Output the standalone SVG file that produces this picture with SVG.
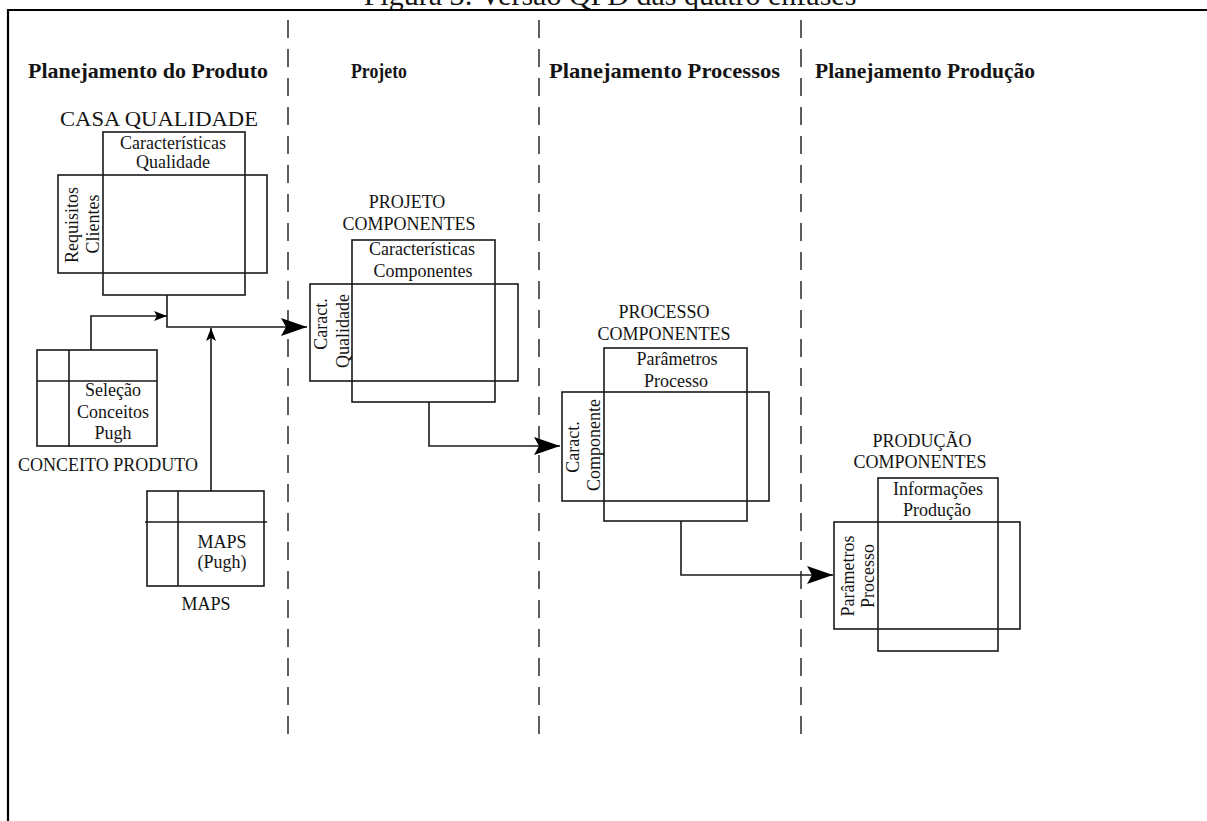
<svg xmlns="http://www.w3.org/2000/svg" width="1207" height="821" viewBox="0 0 1207 821">
<style>
text{font-family:"Liberation Serif","Times New Roman",serif;fill:#141414}
.t{font-size:18px;text-anchor:middle}
.h{font-size:21px;font-weight:bold}
.box{fill:none;stroke:#1a1a1a;stroke-width:1.6}
.ln{fill:none;stroke:#1a1a1a;stroke-width:1.6}
.dash{stroke:#1a1a1a;stroke-width:1.4;stroke-dasharray:18 11}
</style>
<defs>
<marker id="big" viewBox="0 0 26 18" refX="26" refY="9" markerWidth="26" markerHeight="18" markerUnits="userSpaceOnUse" orient="auto">
<path d="M0,0 L26,9 L0,18 L5,9 Z" fill="#000"/>
</marker>
<marker id="small" viewBox="0 0 13 10" refX="13" refY="5" markerWidth="13" markerHeight="10" markerUnits="userSpaceOnUse" orient="auto">
<path d="M0,0 L13,5 L0,10 L3,5 Z" fill="#000"/>
</marker>
</defs>
<rect width="1207" height="821" fill="#fff"/>
<text x="610" y="5" style="font-size:30px;text-anchor:middle">Figura 3: Versão QFD das quatro ênfases</text>
<path d="M8,830 V10 H1207" fill="none" stroke="#000" stroke-width="2.2"/>
<g id="lanes">
<line class="dash" x1="288" y1="20" x2="288" y2="745"/>
<line class="dash" x1="539" y1="20" x2="539" y2="745"/>
<line class="dash" x1="801" y1="20" x2="801" y2="745"/>
<text class="h" x="28" y="78" textLength="240" lengthAdjust="spacingAndGlyphs">Planejamento do Produto</text>
<text class="h" x="351" y="78" textLength="56" lengthAdjust="spacingAndGlyphs">Projeto</text>
<text class="h" x="549" y="78" textLength="231" lengthAdjust="spacingAndGlyphs">Planejamento Processos</text>
<text class="h" x="815" y="78" textLength="220" lengthAdjust="spacingAndGlyphs">Planejamento Produção</text>
</g>
<g id="connectors">
<path class="ln" d="M167,295 V327 H307" marker-end="url(#big)"/>
<path class="ln" d="M91,350 V316 H167" marker-end="url(#small)"/>
<path class="ln" d="M211,491 V328" marker-end="url(#small)"/>
<path class="ln" d="M429,402 V446 H560" marker-end="url(#big)"/>
<path class="ln" d="M681,521 V575 H833" marker-end="url(#big)"/>
</g>
<g id="casa-qualidade">
<text x="159" y="126" style="font-size:22px;text-anchor:middle" textLength="198" lengthAdjust="spacingAndGlyphs">CASA QUALIDADE</text>
<rect class="box" x="103" y="132" width="142" height="163"/>
<rect class="box" x="58" y="175" width="209" height="98"/>
<text class="t" x="173" y="149">Características</text>
<text class="t" x="173" y="168">Qualidade</text>
<text class="t" transform="translate(78,225) rotate(-90)">Requisitos</text>
<text class="t" transform="translate(99,224) rotate(-90)">Clientes</text>
</g>
<g id="conceito-produto">
<rect class="box" x="37" y="350" width="120" height="96"/>
<line class="ln" x1="69" y1="350" x2="69" y2="447"/>
<line class="ln" x1="37" y1="381" x2="157" y2="381"/>
<text class="t" x="113" y="396">Seleção</text>
<text class="t" x="113" y="418">Conceitos</text>
<text class="t" x="113" y="439">Pugh</text>
<text class="t" x="108" y="471">CONCEITO PRODUTO</text>
</g>
<g id="maps">
<rect class="box" x="147" y="491" width="117" height="95"/>
<line class="ln" x1="178" y1="491" x2="178" y2="586"/>
<line class="ln" x1="145" y1="522" x2="267" y2="522"/>
<text class="t" x="222" y="548">MAPS</text>
<text class="t" x="222" y="568">(Pugh)</text>
<text class="t" x="206" y="610">MAPS</text>
</g>
<g id="projeto-componentes">
<text class="t" x="407" y="208">PROJETO</text>
<text class="t" x="409" y="230">COMPONENTES</text>
<rect class="box" x="352" y="240" width="143" height="162"/>
<rect class="box" x="310" y="284" width="208" height="97"/>
<text class="t" x="422" y="255">Características</text>
<text class="t" x="423" y="277">Componentes</text>
<text class="t" transform="translate(327,324) rotate(-90)">Caract.</text>
<text class="t" transform="translate(349,331) rotate(-90)">Qualidade</text>
</g>
<g id="processo-componentes">
<text class="t" x="664" y="318">PROCESSO</text>
<text class="t" x="664" y="340">COMPONENTES</text>
<rect class="box" x="604" y="348" width="143" height="173"/>
<rect class="box" x="562" y="392" width="207" height="109"/>
<text class="t" x="677" y="365">Parâmetros</text>
<text class="t" x="676" y="387">Processo</text>
<text class="t" transform="translate(579,447) rotate(-90)">Caract.</text>
<text class="t" transform="translate(600,445) rotate(-90)">Componente</text>
</g>
<g id="producao-componentes">
<text class="t" x="922" y="447">PRODUÇÃO</text>
<text class="t" x="920" y="468">COMPONENTES</text>
<rect class="box" x="878" y="478" width="120" height="173"/>
<rect class="box" x="834" y="522" width="186" height="107"/>
<text class="t" x="938" y="495">Informações</text>
<text class="t" x="937" y="516">Produção</text>
<text class="t" transform="translate(854,576) rotate(-90)">Parâmetros</text>
<text class="t" transform="translate(874,576) rotate(-90)">Processo</text>
</g>
</svg>
